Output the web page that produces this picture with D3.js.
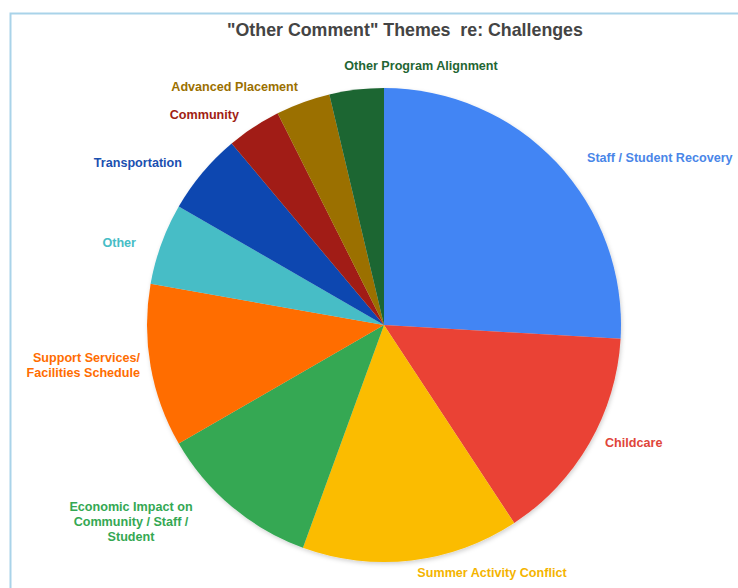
<!DOCTYPE html>
<html lang="en">
<head>
<meta charset="UTF-8">
<title>"Other Comment" Themes re: Challenges</title>
<script src="https://d3js.org/d3.v7.min.js"></script>
<style>
  body { margin: 0; background: #fff; font-family: Arial, "Liberation Sans", sans-serif; }
  #chart { width: 738px; height: 588px; }
</style>
</head>
<body>
<div id="chart"></div>
<script>
  // data (counts)
  const themes = [
    'Staff / Student Recovery', 'Childcare', 'Summer Activity Conflict',
    'Economic Impact on|Community / Staff /|Student', 'Support Services/|Facilities Schedule',
    'Other', 'Transportation', 'Community', 'Advanced Placement', 'Other Program Alignment'
  ];
  const counts = [14, 8, 8, 6, 6, 3, 3, 2, 2, 2];
  const colors = ['#4285f4', '#ea4335', '#fbbc04', '#34a853', '#ff6d01',
                  '#46bdc6', '#0d47b0', '#a11d13', '#9b7000', '#1f6633'];
  const labelColors = ['#4a86e8', '#e0453a', '#f4b400', '#34a853', '#ff6d01',
                       '#46bdc6', '#1a4fb0', '#a11d13', '#9b7000', '#1f6633'];

  // label anchors relative to the pie centre, and alignment
  const labelPos = [[203, -163], [221, 122], [108, 252], [-253, 186], [-244, 37],
                    [-248, -78], [-202, -158], [-145, -206], [-86, -234], [37, -255]];
  const labelAnchor = ['start', 'start', 'middle', 'middle', 'end',
                       'end', 'end', 'end', 'end', 'middle'];

  const width = 738, height = 588;
  const cx = 384, cy = 325, radius = 237;

  const svg = d3.select('#chart').append('svg')
    .attr('width', width).attr('height', height);

  // frame
  svg.append('rect')
    .attr('x', 10.5).attr('y', 13.5)
    .attr('width', 760).attr('height', 600)
    .attr('fill', 'none').attr('stroke', '#a9d3e9').attr('stroke-width', 2);

  svg.append('text')
    .attr('x', 405).attr('y', 36)
    .attr('text-anchor', 'middle')
    .attr('font-size', 17.8).attr('font-weight', 'bold')
    .attr('fill', '#444')
    .attr('xml:space', 'preserve')
    .text('"Other Comment" Themes  re: Challenges');

  const defs = svg.append('defs');
  const f = defs.append('filter').attr('id', 'shadow')
    .attr('x', '-10%').attr('y', '-10%').attr('width', '120%').attr('height', '120%');
  f.append('feDropShadow').attr('dx', 1).attr('dy', 2).attr('stdDeviation', 2)
    .attr('flood-color', '#000').attr('flood-opacity', 0.18);

  const pie = d3.pie().sort(null).value(d => d);
  const arc = d3.arc().innerRadius(0).outerRadius(radius);
  const arcs = pie(counts);

  const g = svg.append('g').attr('transform', `translate(${cx},${cy})`);
  g.append('g').attr('filter', 'url(#shadow)')
    .selectAll('path')
    .data(arcs)
    .enter().append('path')
    .attr('d', arc)
    .attr('fill', (d, i) => colors[i]);

  const labels = g.selectAll('text.lbl')
    .data(themes)
    .enter().append('text')
    .attr('class', 'lbl')
    .attr('x', (d, i) => labelPos[i][0])
    .attr('y', (d, i) => labelPos[i][1])
    .attr('text-anchor', (d, i) => labelAnchor[i])
    .attr('font-size', 12.6).attr('font-weight', 'bold')
    .attr('fill', (d, i) => labelColors[i]);

  labels.each(function(d, i) {
    const lines = d.split('|');
    const t = d3.select(this);
    lines.forEach((ln, j) => {
      t.append('tspan')
        .attr('x', labelPos[i][0])
        .attr('dy', j === 0 ? 0 : 15)
        .text(ln);
    });
  });
</script>
</body>
</html>
